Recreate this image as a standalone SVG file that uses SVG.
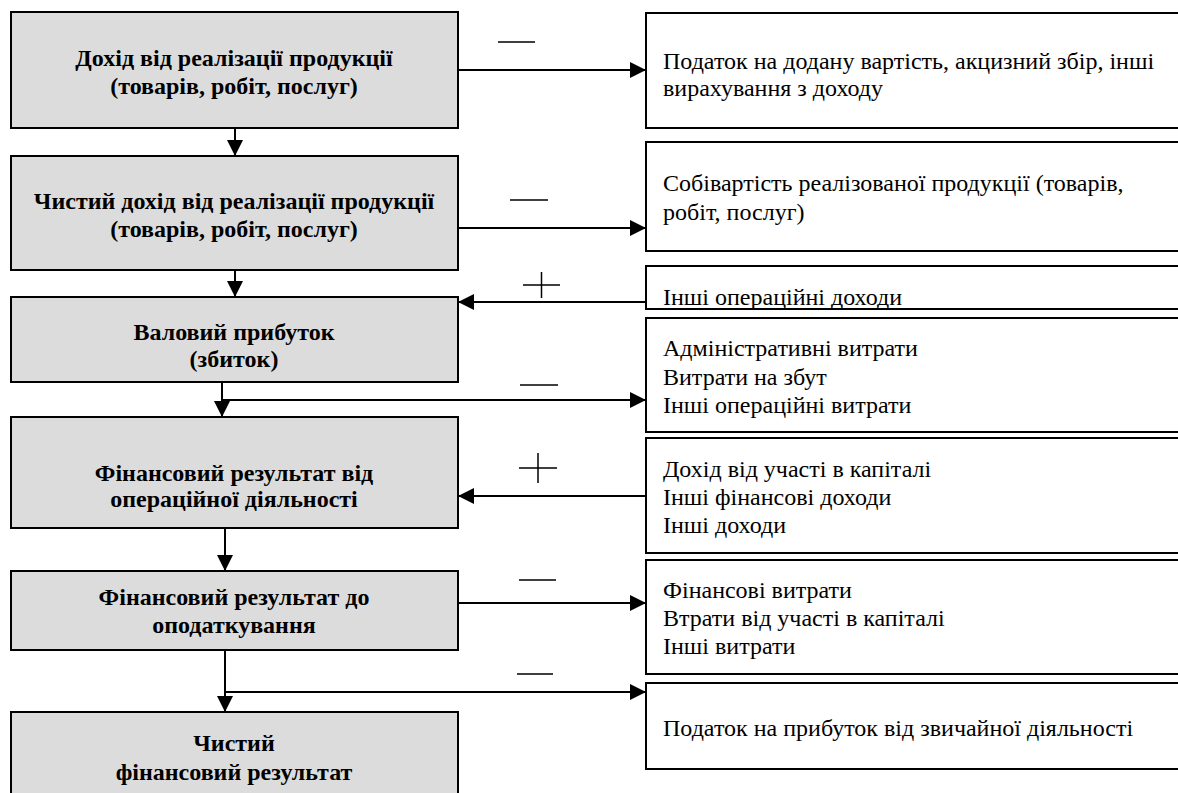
<svg xmlns="http://www.w3.org/2000/svg" width="1178" height="793" viewBox="0 0 1178 793">
<style>
.lb{fill:#dcdcdc;stroke:#000;stroke-width:2}
.rb{fill:#fff;stroke:#000;stroke-width:2}
.lt{font-family:"Liberation Serif","Times New Roman",serif;font-weight:bold;font-size:24px;text-anchor:middle;fill:#000}
.rt{font-family:"Liberation Serif","Times New Roman",serif;font-size:24px;fill:#000}
.cn{stroke:#000;stroke-width:2;fill:none}
.sg{stroke:#000;stroke-width:1.5;fill:none}
</style>
<defs>
<marker id="ah" viewBox="0 0 16 16" refX="16" refY="8" markerWidth="16" markerHeight="16" markerUnits="userSpaceOnUse" orient="auto">
<path d="M0,0 L16,8 L0,16 Z" fill="#000"/>
</marker>
<clipPath id="c3"><rect x="646" y="266" width="540" height="42"/></clipPath>
</defs>
<rect width="1178" height="793" fill="#fff"/>
<g id="connectors">
<path class="cn" d="M235,128 V156" marker-end="url(#ah)"/>
<path class="cn" d="M235,270 V297" marker-end="url(#ah)"/>
<path class="cn" d="M222,382 V417" marker-end="url(#ah)"/>
<path class="cn" d="M225,528 V571" marker-end="url(#ah)"/>
<path class="cn" d="M225,650 V712" marker-end="url(#ah)"/>
<path class="cn" d="M458,70 H646" marker-end="url(#ah)"/>
<path class="cn" d="M458,228 H646" marker-end="url(#ah)"/>
<path class="cn" d="M646,302 H458" marker-end="url(#ah)"/>
<path class="cn" d="M222,400 H646" marker-end="url(#ah)"/>
<path class="cn" d="M646,496 H458" marker-end="url(#ah)"/>
<path class="cn" d="M458,603 H646" marker-end="url(#ah)"/>
<path class="cn" d="M225,692 H646" marker-end="url(#ah)"/>
<path class="sg" d="M498,42 H535"/>
<path class="sg" d="M510,200 H548"/>
<path class="sg" d="M523,285 H560 M541.5,272 V298"/>
<path class="sg" d="M520,385 H558"/>
<path class="sg" d="M519,468 H557 M538,453 V483"/>
<path class="sg" d="M519,580 H556"/>
<path class="sg" d="M517,674 H553"/>
</g>
<g id="b1"><rect class="lb" x="11" y="12" width="447" height="116"/><text class="lt" x="234" y="66">Дохід від реалізації продукції</text><text class="lt" x="234" y="94">(товарів, робіт, послуг)</text></g>
<g id="b2"><rect class="lb" x="11" y="156" width="447" height="114"/><text class="lt" x="234" y="209">Чистий дохід від реалізації продукції</text><text class="lt" x="234" y="237">(товарів, робіт, послуг)</text></g>
<g id="b3"><rect class="lb" x="11" y="297" width="447" height="85"/><text class="lt" x="234" y="340">Валовий прибуток</text><text class="lt" x="234" y="367">(збиток)</text></g>
<g id="b4"><rect class="lb" x="11" y="417" width="447" height="111"/><text class="lt" x="234" y="481">Фінансовий результат від</text><text class="lt" x="234" y="507">операційної діяльності</text></g>
<g id="b5"><rect class="lb" x="11" y="571" width="447" height="79"/><text class="lt" x="234" y="605">Фінансовий результат до</text><text class="lt" x="234" y="633">оподаткування</text></g>
<g id="b6"><rect class="lb" x="11" y="712" width="447" height="100"/><text class="lt" x="234" y="751">Чистий</text><text class="lt" x="234" y="780">фінансовий результат</text></g>
<g id="r1"><rect class="rb" x="646" y="13" width="545" height="115"/><text class="rt" x="663" y="69">Податок на додану вартість, акцизний збір, інші</text><text class="rt" x="663" y="96">вирахування з доходу</text></g>
<g id="r2"><rect class="rb" x="646" y="142" width="545" height="109"/><text class="rt" x="663" y="191">Собівартість реалізованої продукції (товарів,</text><text class="rt" x="663" y="220">робіт, послуг)</text></g>
<g id="r3"><rect class="rb" x="646" y="266" width="545" height="43"/><text class="rt" x="663" y="305" clip-path="url(#c3)">Інші операційні доходи</text></g>
<g id="r4"><rect class="rb" x="646" y="318" width="545" height="114"/><text class="rt" x="663" y="356">Адміністративні витрати</text><text class="rt" x="663" y="385">Витрати на збут</text><text class="rt" x="663" y="413">Інші операційні витрати</text></g>
<g id="r5"><rect class="rb" x="646" y="438" width="545" height="115"/><text class="rt" x="663" y="477">Дохід від участі в капіталі</text><text class="rt" x="663" y="505">Інші фінансові доходи</text><text class="rt" x="663" y="533">Інші доходи</text></g>
<g id="r6"><rect class="rb" x="646" y="560" width="545" height="114"/><text class="rt" x="663" y="598">Фінансові витрати</text><text class="rt" x="663" y="626">Втрати від участі в капіталі</text><text class="rt" x="663" y="654">Інші витрати</text></g>
<g id="r7"><rect class="rb" x="646" y="683" width="545" height="86"/><text class="rt" x="663" y="736">Податок на прибуток від звичайної діяльності</text></g>
</svg>
